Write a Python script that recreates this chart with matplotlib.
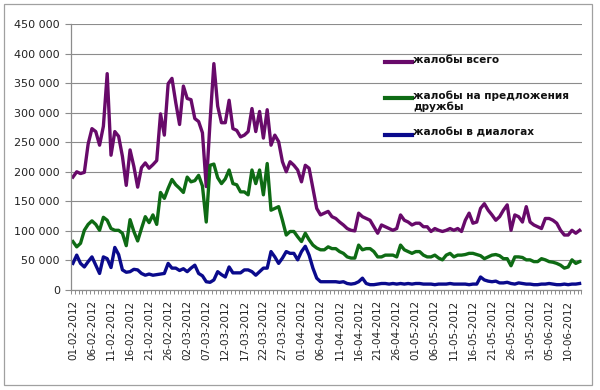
import matplotlib
matplotlib.use("Agg")
import matplotlib.pyplot as plt
import numpy as np
import pandas as pd
from matplotlib.ticker import FuncFormatter, FixedLocator
from matplotlib.lines import Line2D

plt.rcParams['font.family'] = ['DejaVu Sans']

start_date = "2012-02-01"
n_days = 134
dates = pd.date_range(start_date, periods=n_days, freq="D")

series_names = ["жалобы всего", "жалобы на предложения\nдружбы", "жалобы в диалогах"]

# values in thousands
total = [191, 200, 197, 199, 247, 273, 268, 245, 277, 366, 228, 268, 260, 226, 177, 237, 209, 174, 207, 215,
         206, 212, 219, 298, 262, 349, 358, 317, 280, 345, 324, 322, 290, 285, 266, 175, 285, 383, 311, 283,
         283, 321, 273, 270, 259, 262, 268, 307, 268, 302, 257, 305, 245, 262, 251, 217, 200, 217, 211, 203,
         183, 211, 206, 172, 138, 127, 130, 133, 124, 121, 115, 110, 104, 101, 100, 130, 124, 121, 118, 107,
         96, 110, 107, 104, 101, 104, 127, 118, 115, 110, 113, 113, 107, 107, 99, 104, 101, 99, 101, 104,
         101, 104, 99, 118, 130, 113, 115, 138, 146, 135, 127, 118, 124, 135, 144, 101, 127, 124, 115, 141,
         115, 110, 107, 104, 121, 121, 118, 113, 101, 93, 93, 101, 96, 101]
friends = [82, 73, 79, 101, 111, 117, 111, 101, 123, 118, 104, 101, 101, 96, 75, 119, 99, 83, 104, 124,
           114, 127, 111, 165, 155, 172, 187, 178, 172, 165, 191, 183, 185, 194, 176, 115, 211, 213, 190, 180,
           188, 203, 180, 178, 166, 166, 161, 203, 180, 203, 161, 214, 135, 138, 141, 118, 93, 99, 99, 90,
           82, 96, 85, 76, 71, 68, 68, 73, 70, 70, 65, 62, 56, 54, 54, 76, 68, 70, 70, 65,
           56, 56, 59, 59, 59, 56, 76, 68, 65, 62, 65, 65, 59, 56, 56, 59, 54, 51, 59, 62,
           56, 59, 59, 60, 62, 62, 60, 58, 53, 56, 59, 60, 58, 53, 53, 41, 56, 56, 55, 51,
           51, 48, 48, 53, 51, 48, 47, 45, 42, 37, 39, 51, 45, 48]
dialogs = [45, 59, 45, 39, 48, 56, 42, 28, 56, 53, 38, 72, 60, 34, 30, 31, 35, 34, 28, 25,
           27, 25, 26, 27, 28, 45, 37, 37, 33, 36, 31, 37, 42, 28, 24, 14, 13, 17, 31, 26,
           22, 39, 29, 29, 29, 34, 34, 31, 25, 31, 37, 37, 65, 56, 45, 54, 65, 62, 62, 51,
           65, 74, 59, 37, 20, 14, 14, 14, 14, 14, 13, 14, 11, 10, 11, 14, 20, 11, 9, 9,
           10, 11, 11, 10, 11, 10, 11, 10, 11, 10, 11, 11, 10, 10, 10, 9, 10, 10, 10, 11,
           10, 10, 10, 10, 9, 10, 10, 22, 17, 15, 14, 15, 12, 12, 13, 11, 10, 12, 11, 10,
           10, 9, 9, 10, 10, 11, 10, 9, 9, 10, 9, 10, 10, 11]

colors = ["#680A6A", "#0E6B14", "#0A0A8C"]
y_ticks = [0, 50000, 100000, 150000, 200000, 250000, 300000, 350000, 400000, 450000]
label_step = 5

fig = plt.figure(figsize=(6, 3.9), dpi=100)
# outer chart border
fig.patches.append(plt.Rectangle((4/600, 1 - 385/390), 588/600, 381/390, transform=fig.transFigure,
                                 fill=False, edgecolor="#A0A0A0", linewidth=0.9))
ax = fig.add_axes([71/600, 1 - 290/390, 510.5/600, 266/390])

x = np.arange(n_days)
for vals, name, c in zip([total, friends, dialogs], series_names, colors):
    ax.plot(x, np.array(vals) * 1000, color=c, lw=2.4, solid_joinstyle="round", label=name)

ax.set_xlim(-0.5, n_days - 0.5)
ax.set_ylim(0, 450000)
ax.set_yticks(y_ticks)
ax.yaxis.set_major_formatter(FuncFormatter(lambda v, p: f"{int(v):,}".replace(",", " ")))
ax.grid(axis="y", color="#8C8C8C", lw=0.8)
ax.set_axisbelow(True)

for s in ["top", "right"]:
    ax.spines[s].set_visible(False)
for s in ["left", "bottom"]:
    ax.spines[s].set_color("#8C8C8C")
    ax.spines[s].set_linewidth(0.9)

label_pos = x[::label_step]
ax.set_xticks(label_pos)
ax.set_xticklabels([d.strftime("%d-%m-%Y") for d in dates[::label_step]], rotation=90, fontsize=7.5)
ax.xaxis.set_minor_locator(FixedLocator(np.arange(n_days + 1) - 0.5))
ax.tick_params(axis="x", which="major", length=0, pad=7, colors="#222222")
ax.tick_params(axis="x", which="minor", length=3, color="#8C8C8C", width=0.7)
ax.tick_params(axis="y", length=4, color="#8C8C8C", labelsize=8, pad=4, labelcolor="#222222")

# legend (no frame), handle aligned with the first line of each label
leg_x0, leg_x1, txt_x = 0.615, 0.667, 0.670
leg_y = [0.857, 0.722, 0.583]
for name, c, yy in zip(series_names, colors, leg_y):
    ax.add_line(Line2D([leg_x0, leg_x1], [yy, yy], transform=ax.transAxes, color=c, lw=3,
                       clip_on=False))
    ax.text(txt_x, yy, name, transform=ax.transAxes, fontsize=7.6, fontweight="bold",
            va="top", ha="left", color="#111111", linespacing=1.05,
            bbox=None).set_y(yy + 0.028)

fig.savefig("out.png", dpi=100)
